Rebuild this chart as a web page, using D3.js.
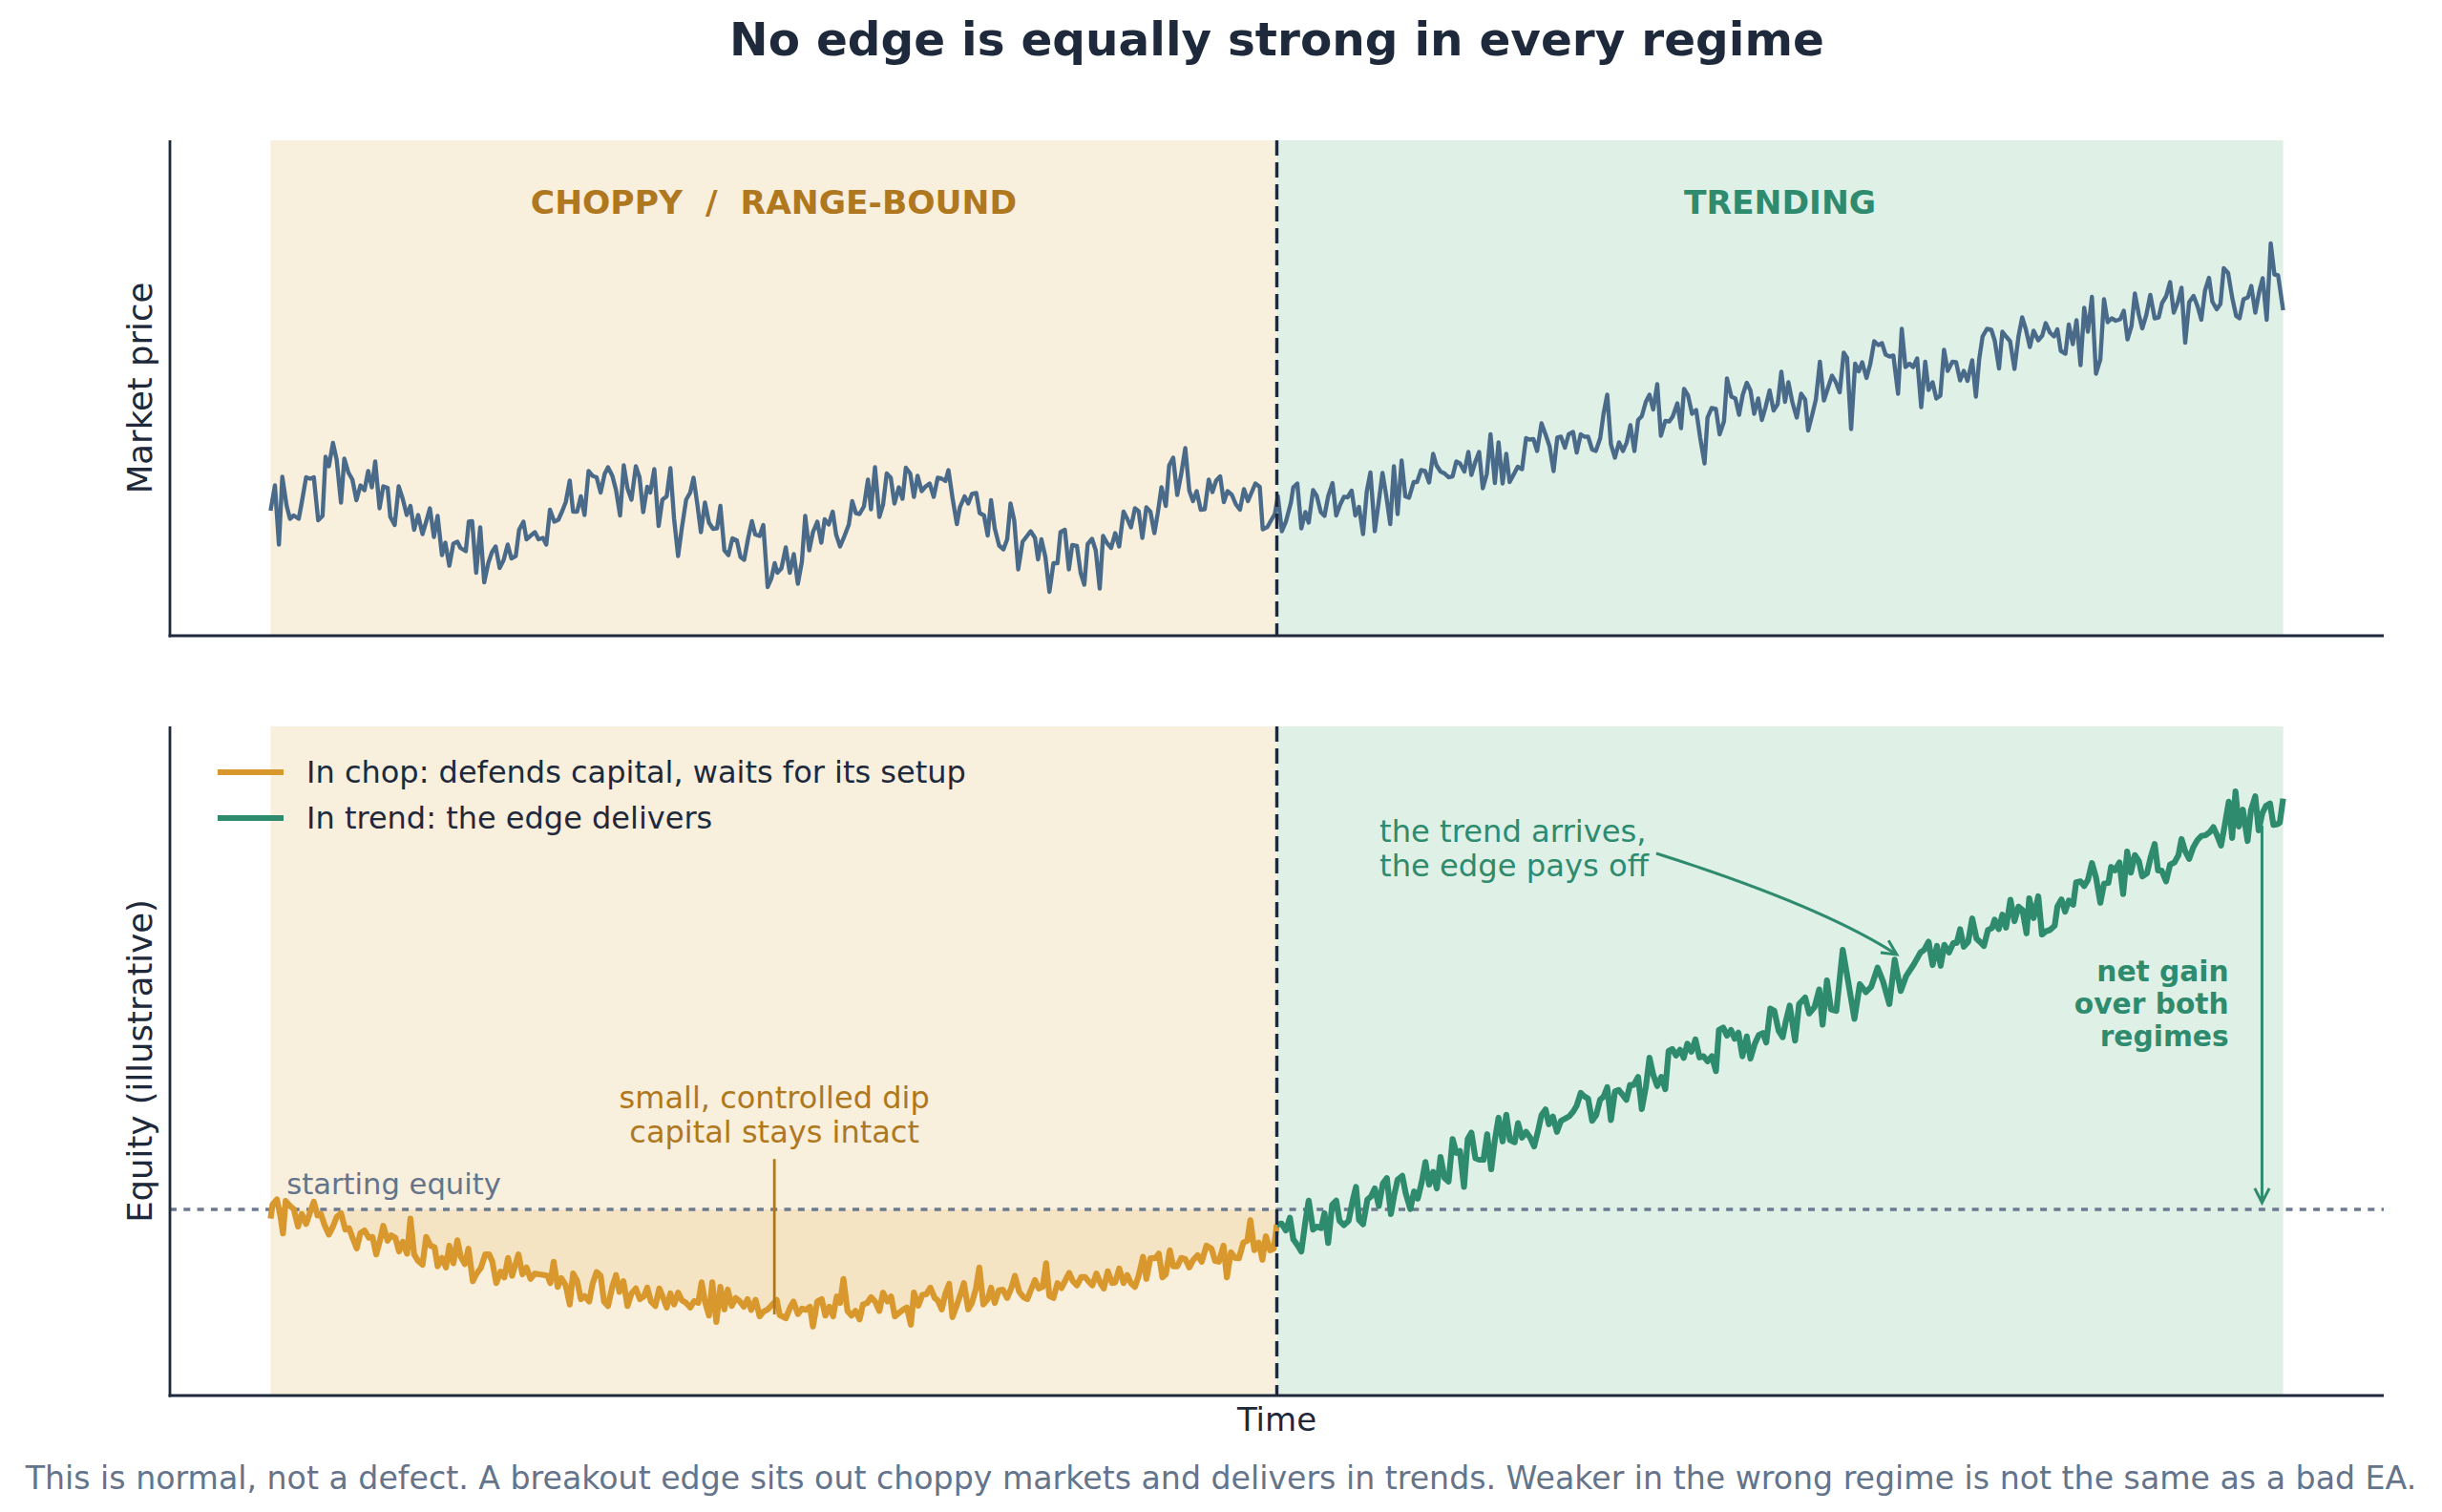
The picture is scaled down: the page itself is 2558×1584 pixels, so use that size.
<!DOCTYPE html>
<html>
<head>
<meta charset="utf-8">
<script src="https://cdnjs.cloudflare.com/ajax/libs/d3/7.8.5/d3.min.js"></script>
<style>
  body { margin: 0; background: #fff; }
  svg { display: block; font-family: "DejaVu Sans", sans-serif; }
</style>
</head>
<body>
<svg id="chart" width="2558" height="1584"></svg>
<script>
// === DATA (time index 0..600) ===
const regimeBounds = [0, 300, 600];
const regimeLabels = ["CHOPPY  /  RANGE-BOUND", "TRENDING"];
const startEquity = 100;

const priceChop = [
[0,93.0],[1.3,98.3],[2.5,85.9],[3.5,100.1],[4.8,94.0],[5.8,91.3],[6.9,92.0],[8.4,91.3],[9.3,94.7],[10.6,100.0],[11.8,99.7],[12.9,100.0],[14.2,91.0],[15.5,91.9],[16.4,104.3],[17.4,102.3],[18.6,107.2],[19.7,103.7],[21.0,94.7],[22.0,103.9],[23.2,101.0],[24.4,99.5],[25.6,95.2],[26.8,98.3],[28.0,97.3],[29.1,101.3],[30.2,97.9],[31.2,103.3],[32.5,93.5],[33.6,98.1],[34.9,97.8],[35.7,91.7],[37.0,90.0],[38.2,98.1],[39.4,95.5],[40.6,92.1],[41.7,94.0],[42.8,89.0],[44.0,92.1],[45.3,88.1],[46.4,90.7],[47.5,93.5],[48.7,87.5],[49.8,91.9],[51.1,83.7],[52.1,86.3],[53.3,81.5],[54.5,86.1],[55.7,86.5],[56.6,85.2],[58.2,84.5],[59.1,90.7],[60.1,90.8],[61.3,80.0],[62.5,89.5],[63.7,78.0],[64.9,82.0],[66.0,84.3],[67.1,85.5],[68.3,81.0],[69.5,82.7],[70.7,85.9],[71.8,83.0],[73.1,83.5],[74.1,89.0],[75.4,90.7],[76.3,87.0],[77.6,87.8],[78.8,88.5],[79.9,87.0],[81.2,87.3],[82.2,85.9],[83.3,93.2],[84.6,90.7],[85.8,91.1],[87.0,93.0],[88.0,94.8],[89.2,99.3],[90.2,92.8],[91.4,92.8],[92.5,96.0],[93.6,92.1],[94.8,101.3],[96.0,100.3],[97.2,100.0],[98.4,96.8],[99.6,100.7],[100.6,102.1],[101.9,100.3],[103.0,97.3],[104.2,92.0],[105.3,102.5],[106.4,97.7],[107.6,95.3],[108.9,102.3],[110.0,100.0],[111.1,92.7],[112.3,98.0],[113.2,96.8],[114.4,101.7],[115.7,89.8],[116.8,95.3],[118.1,96.0],[119.2,101.9],[120.3,91.3],[121.5,83.5],[122.6,89.3],[123.9,95.3],[125.1,96.8],[126.1,99.9],[127.3,94.0],[128.3,88.5],[129.5,94.7],[130.7,90.5],[131.9,89.2],[133.1,89.3],[134.1,94.0],[135.3,84.7],[136.5,83.7],[137.7,87.2],[139.0,86.8],[140.1,83.3],[141.2,82.7],[142.4,87.3],[143.5,90.8],[144.5,88.0],[145.8,87.7],[146.9,90.0],[148.2,77.0],[149.3,78.8],[150.3,82.0],
[151.1,80.0],[152.3,80.9],[153.6,85.3],[154.8,80.0],[156.0,83.9],[157.2,77.7],[158.4,82.3],[159.4,91.9],[160.6,84.7],[161.7,88.5],[163.0,90.7],[164.2,86.3],[165.2,91.2],[166.4,90.1],[167.6,92.8],[168.6,88.0],[169.8,85.5],[171.1,87.7],[172.4,90.1],[173.4,95.0],[174.5,92.5],[175.6,92.3],[176.9,93.9],[178.1,99.5],[179.0,93.3],[180.2,102.1],[181.5,91.7],[182.6,94.3],[183.7,100.8],[184.9,99.9],[186.0,94.5],[187.3,97.9],[188.4,95.5],[189.4,102.0],[190.7,100.8],[191.8,95.9],[192.9,100.3],[194.1,97.1],[195.2,98.0],[196.5,98.7],[197.7,95.9],[198.9,99.9],[200.1,99.7],[201.2,99.2],[202.1,101.5],[203.3,95.7],[204.6,90.2],[205.5,93.7],[206.9,96.0],[208.0,94.5],[209.1,96.5],[210.4,96.7],[211.4,92.5],[212.7,92.0],[213.8,87.8],[214.8,95.2],[215.9,89.3],[217.2,85.7],[218.5,84.9],[219.6,87.0],[220.6,94.5],[221.7,91.0],[222.9,80.7],[224.2,86.5],[225.3,87.5],[226.6,88.7],[227.9,87.3],[228.8,82.8],[229.8,87.0],[231.0,83.3],[232.2,76.0],[233.4,82.0],[234.6,82.0],[235.5,88.5],[236.8,89.0],[238.0,80.7],[239.0,85.8],[240.4,85.6],[241.5,80.0],[242.6,77.5],[243.6,86.0],[244.9,87.1],[246.0,84.7],[247.2,76.7],[248.2,87.7],[249.4,86.2],[250.6,85.2],[251.8,88.3],[253.0,85.5],[254.3,92.8],[255.4,91.3],[256.5,89.5],[257.7,93.5],[258.8,92.9],[259.9,87.3],[261.1,93.7],[262.3,92.8],[263.5,88.3],[264.5,92.5],[265.6,97.9],[266.9,94.0],[267.9,102.5],[269.1,104.1],[270.3,96.3],[271.5,100.7],[272.7,106.1],[273.9,97.2],[275.0,95.0],[276.1,97.1],[277.3,93.2],[278.5,93.3],[279.7,99.5],[280.8,96.9],[281.9,99.3],[283.1,100.2],[284.2,94.8],[285.3,97.1],[286.6,96.3],[287.8,94.3],[289.0,93.2],[290.2,97.5],[291.4,95.0],[292.4,96.7],[293.6,98.7],[294.9,98.0],[295.8,89.1],[297.2,89.6],[298.3,91.0],[299.4,92.3],[300.3,96.0]
];

const priceTrend = [
[301.5,88.7],[302.7,90.7],[304.2,94.7],[304.9,97.9],[306.1,98.7],[307.3,89.3],[308.5,92.7],[309.5,90.5],[310.8,97.3],[311.9,96.1],[313.1,92.7],[314.2,91.9],[315.3,96.0],[316.6,98.8],[317.7,92.0],[318.9,94.3],[320.0,95.9],[321.1,95.8],[322.3,97.2],[323.4,92.0],[324.5,93.8],[325.7,88.1],[326.8,97.0],[327.9,101.0],[329.2,88.7],[330.4,95.0],[331.5,100.9],[332.6,96.2],[333.8,90.2],[334.9,102.3],[336.0,92.3],[337.2,103.5],[338.3,96.0],[339.4,95.7],[340.8,99.0],[341.8,99.0],[343.0,101.5],[344.2,101.3],[345.4,98.9],[346.6,104.9],[347.6,102.5],[348.8,101.2],[350.0,100.8],[351.2,100.0],[352.4,100.2],[353.5,103.3],[354.6,102.9],[355.9,101.2],[357.1,105.3],[358.0,100.5],[359.2,103.3],[360.3,105.3],[361.4,97.7],[362.6,100.7],[363.7,109.0],[365.0,98.8],[366.1,107.3],[367.3,98.7],[368.4,104.9],[369.4,99.0],[370.7,100.7],[371.8,102.2],[373.1,101.7],[374.3,108.2],[375.3,107.9],[376.5,108.0],[377.6,105.5],[378.9,111.3],[380.1,109.0],[381.3,106.5],[382.5,101.3],[383.6,108.3],[384.7,108.5],[385.9,106.2],[387.0,109.0],[388.3,109.5],[389.4,105.2],[390.6,109.0],[391.7,108.5],[392.8,108.5],[394.0,105.8],[395.1,105.5],[396.4,108.2],[397.4,113.3],[398.5,117.3],[399.6,106.9],[400.8,104.1],[402.0,107.3],[403.2,105.5],[404.3,107.3],[405.4,110.9],[406.6,105.5],[407.7,112.0],[408.8,112.8],[410.0,115.8],[411.1,117.3],[412.2,114.2],[413.4,119.5],[414.5,108.7],[415.8,111.8],[417.0,111.7],[418.0,112.7],[419.4,115.5],[420.5,110.3],[421.4,118.5],[422.6,117.1],[423.8,113.3],[425.0,114.1],[426.2,108.3],[427.5,102.9],[428.4,112.5],[429.6,114.5],[430.9,114.3],[432.0,109.0],[433.3,111.7],[434.2,120.7],[435.5,116.9],[436.7,116.5],[437.8,113.1],[438.9,117.3],[440.1,119.8],[441.2,118.2],[442.3,113.3],[443.5,116.5],[444.6,112.0],[445.7,114.7],[446.9,118.2],[448.1,114.0],[449.3,115.3],
[450.4,122.1],[451.5,115.8],[452.5,119.9],[453.7,115.7],[455.0,112.5],[456.3,117.5],[457.5,116.3],[458.4,109.8],[459.6,113.1],[460.7,116.3],[461.9,124.2],[463.1,116.1],[464.3,118.7],[465.5,121.3],[466.6,120.0],[467.8,117.8],[469.0,126.1],[470.0,125.0],[471.2,110.1],[472.4,123.8],[473.5,122.2],[474.5,124.1],[475.8,120.8],[476.9,123.7],[478.1,128.5],[479.3,127.7],[480.4,128.1],[481.5,125.7],[482.7,125.3],[483.8,125.5],[485.2,117.5],[486.3,131.1],[487.4,123.1],[488.6,123.8],[489.7,123.1],[490.9,124.9],[492.1,114.7],[493.3,124.2],[494.3,118.3],[495.5,119.9],[496.6,116.5],[497.8,117.1],[498.9,126.7],[500.0,122.3],[501.4,124.2],[502.5,124.1],[503.7,120.3],[504.8,122.3],[505.9,120.2],[507.3,124.5],[508.4,116.9],[509.4,124.8],[510.4,129.5],[511.7,131.1],[513.0,130.9],[514.0,128.7],[515.3,122.8],[516.3,130.5],[517.4,129.5],[518.6,128.5],[519.9,122.7],[521.1,129.5],[522.2,133.5],[523.3,131.0],[524.5,127.3],[525.6,130.7],[527.0,128.7],[528.2,129.7],[529.2,132.3],[530.5,130.3],[531.7,129.5],[532.7,131.0],[533.7,126.5],[535.1,125.9],[536.1,132.0],[537.3,127.9],[538.4,132.9],[539.6,123.5],[540.7,135.5],[541.8,130.5],[543.0,137.8],[544.2,121.7],[545.5,124.7],[546.6,137.3],[547.7,132.5],[548.9,133.3],[550.1,132.8],[551.4,133.1],[552.5,134.9],[553.6,128.9],[554.8,131.7],[555.8,138.5],[557.0,134.0],[558.0,131.2],[559.2,134.0],[560.4,138.2],[561.7,133.3],[562.9,133.5],[563.9,136.5],[565.1,137.9],[566.3,140.9],[567.4,134.5],[568.6,136.7],[569.7,139.7],[570.8,128.2],[572.0,136.7],[573.3,138.0],[574.5,135.8],[575.6,133.0],[576.7,139.1],[577.9,141.8],[578.9,136.8],[580.2,135.2],[581.3,136.3],[582.3,143.8],[583.6,142.8],[584.8,137.7],[586.0,133.8],[587.0,133.3],[588.2,137.3],[589.5,137.7],[590.5,140.1],[591.7,134.5],[592.9,139.0],[593.9,141.7],[595.1,133.0],[596.3,149.0],[597.4,142.5],[598.5,142.3],[600.0,135.0]
];

const equityChop = [
[0,97.6],[0.6,101.3],[1.9,102.6],[3.0,98.0],[3.7,93.7],[4.5,102.2],[5.8,100.9],[6.9,100.1],[8.2,95.5],[9.3,98.8],[10.6,96.2],[11.8,99.3],[12.9,102.0],[14.0,98.4],[15.0,98.8],[16.1,95.9],[17.4,93.4],[18.6,95.5],[19.7,98.0],[21.0,99.0],[22.3,94.7],[23.4,95.1],[24.6,92.2],[25.7,89.8],[26.8,93.8],[28.0,94.5],[29.3,92.6],[30.4,92.8],[31.5,88.2],[32.6,91.8],[33.6,95.7],[34.9,91.8],[36.0,93.2],[37.2,92.6],[38.3,89.0],[39.4,91.5],[40.7,88.4],[41.7,97.6],[42.8,88.2],[44.0,86.5],[45.3,85.5],[46.4,92.8],[47.7,90.5],[48.9,90.1],[49.8,85.1],[51.1,87.3],[52.3,84.8],[53.3,90.5],[54.5,85.9],[55.7,91.9],[56.7,87.6],[57.9,85.7],[59.0,89.7],[60.3,81.2],[61.3,83.0],[62.7,84.7],[64.0,88.2],[65.2,88.2],[66.1,86.3],[67.3,80.7],[68.6,83.7],[69.7,82.2],[70.8,87.3],[72.0,82.6],[73.9,88.2],[75.1,83.0],[76.3,84.8],[77.5,81.8],[78.8,83.2],[80.2,83.0],[81.5,82.8],[82.6,82.6],[83.4,80.7],[84.4,86.3],[85.6,79.7],[86.7,82.0],[88.0,80.1],[89.2,75.1],[90.2,83.2],[91.4,81.3],[92.5,76.5],[93.6,77.3],[95.0,75.9],[96.0,80.5],[97.2,83.6],[98.4,82.6],[99.4,75.9],[100.6,74.7],[101.9,79.8],[103.0,82.8],[104.0,78.4],[105.2,81.2],[106.4,74.7],[107.6,78.0],[108.9,79.3],[110.1,76.5],[111.3,77.2],[112.3,79.5],[113.4,75.9],[114.7,74.7],[115.9,79.3],[116.9,77.2],[118.1,74.3],[119.2,78.0],[120.3,75.1],[121.5,78.2],[122.6,76.2],[123.9,75.5],[125.1,74.3],[126.3,76.0],[127.5,75.5],[128.5,80.9],[129.5,75.9],[130.7,72.2],[131.7,80.9],[132.9,70.5],[134.1,79.7],[135.3,73.8],[136.3,79.0],[137.5,74.7],[138.7,76.8],[139.9,75.9],[141.1,74.5],[142.2,76.5],[143.3,73.7],[144.6,76.3],[145.8,72.0],[146.9,73.2],[148.2,73.8],[149.2,74.7],
[150.9,76.3],[151.8,72.3],[153.6,71.5],[154.9,74.3],[155.9,75.9],[157.2,72.6],[158.4,74.0],[159.6,73.7],[160.8,74.5],[161.7,69.3],[163.0,75.9],[164.3,76.5],[165.4,72.2],[166.6,74.5],[167.7,72.0],[168.8,77.2],[169.8,75.5],[170.8,81.8],[172.0,73.4],[173.2,72.2],[174.4,73.4],[175.6,71.2],[176.6,75.1],[177.9,75.5],[179.0,77.0],[180.2,75.9],[181.5,73.4],[182.6,78.2],[183.9,75.9],[185.0,77.2],[186.1,72.0],[187.5,73.0],[188.7,73.8],[189.7,74.3],[190.9,69.8],[191.8,78.2],[193.1,74.8],[194.3,77.6],[195.5,77.8],[196.7,79.5],[198.0,76.8],[198.9,76.2],[200.1,73.8],[201.2,78.0],[202.3,80.5],[203.3,71.8],[204.5,74.7],[205.7,77.8],[206.7,80.7],[208.0,73.8],[209.1,75.5],[210.3,79.3],[211.3,84.8],[212.5,75.1],[213.8,76.5],[214.8,79.5],[215.9,75.5],[217.1,78.8],[218.3,79.0],[219.6,76.8],[220.8,79.3],[221.9,82.6],[223.2,78.4],[224.5,77.0],[225.6,76.5],[226.6,78.7],[227.9,81.5],[229.0,79.3],[230.2,79.7],[231.2,85.9],[232.2,77.3],[233.4,76.8],[234.6,80.7],[235.8,79.4],[237.0,81.5],[238.1,83.4],[239.2,81.2],[240.4,80.1],[241.7,82.3],[242.8,82.3],[244.1,80.9],[245.0,80.1],[246.2,83.2],[247.5,80.5],[248.4,79.3],[249.6,83.8],[250.9,80.7],[251.8,80.9],[253.0,84.5],[254.3,80.7],[255.4,82.8],[256.5,80.7],[257.7,79.7],[258.8,82.6],[260.1,87.6],[261.1,81.8],[262.3,87.2],[263.7,87.2],[264.8,88.4],[265.9,82.2],[266.9,83.0],[268.1,89.3],[269.1,85.1],[270.3,85.1],[271.5,87.3],[272.7,87.0],[273.9,84.8],[275.1,86.8],[276.4,88.0],[277.6,86.3],[279.0,90.5],[280.5,89.7],[281.6,86.5],[282.7,86.3],[284.1,90.5],[285.1,82.2],[286.3,88.8],[287.6,87.3],[288.7,87.2],[290.0,91.3],[291.2,91.8],[292.1,97.2],[293.3,89.3],[294.6,91.3],[295.7,86.8],[296.7,93.0],[298.0,89.3],[299.1,89.7],[300,96.0]
];

const equityTrend = [
[300,96.0],[301.4,96.3],[302.7,94.5],[303.9,97.8],[304.9,92.2],[306.1,90.7],[307.3,89.0],[308.5,96.8],[309.5,102.3],[310.8,94.7],[311.9,95.5],[313.2,95.1],[314.2,99.0],[315.3,91.2],[316.5,101.2],[317.7,102.3],[318.7,97.0],[320.0,95.9],[321.4,97.0],[322.6,102.3],[323.6,105.9],[324.5,97.2],[325.7,96.1],[327.0,102.6],[328.1,103.4],[329.2,105.5],[330.4,100.9],[331.6,106.8],[332.8,108.2],[334.0,98.8],[335.0,103.8],[336.0,107.8],[337.4,108.8],[338.4,104.3],[339.8,100.1],[340.9,104.7],[342.0,102.8],[343.2,107.2],[344.3,112.4],[345.4,106.5],[346.6,109.8],[347.7,105.5],[348.8,113.7],[350.0,108.2],[351.2,107.3],[352.4,118.4],[353.5,114.8],[354.6,115.3],[355.8,105.9],[356.9,118.4],[358.0,120.1],[359.2,113.4],[360.5,113.0],[361.6,113.0],[362.7,119.7],[363.9,110.5],[365.0,118.2],[366.1,124.0],[367.3,117.8],[368.4,124.8],[369.5,118.2],[370.9,117.6],[371.9,122.6],[373.1,118.8],[374.3,120.3],[375.5,118.8],[376.7,116.5],[377.9,120.7],[378.9,124.7],[380.1,126.2],[381.1,122.3],[382.3,124.3],[383.5,120.3],[384.7,123.2],[386.0,123.8],[387.2,124.4],[388.4,125.7],[389.4,127.2],[390.6,130.5],[391.5,129.7],[392.8,129.0],[394.0,123.2],[395.2,124.7],[396.4,128.8],[397.4,129.5],[398.5,132.0],[399.6,123.4],[400.8,130.9],[401.9,131.3],[403.0,130.1],[404.2,128.7],[405.3,132.6],[406.4,132.6],[407.7,134.7],[408.8,126.3],[410.0,132.0],[411.1,139.7],[412.2,135.3],[413.4,132.3],[414.6,134.7],[415.8,131.5],[416.8,141.5],[417.9,142.0],[419.0,140.3],[420.2,141.8],[421.3,139.7],[422.4,143.4],[423.6,141.3],[424.8,144.5],[426.0,139.8],[427.2,140.1],[428.4,138.8],[429.7,140.1],[430.9,136.2],[431.8,147.0],[433.1,147.6],[434.2,145.5],[435.4,147.0],[436.5,144.7],[437.6,146.3],[438.8,140.1],[440.1,145.3],[441.2,139.5],[442.5,143.4],[443.7,145.7],[444.9,146.2],[445.9,143.7],[447.1,152.6],[448.3,152.0],[449.6,146.8],[450.8,145.1],
[451.7,149.1],[452.9,153.4],[454.5,144.2],[455.7,153.8],[457.5,155.5],[458.7,151.3],[460.3,153.0],[461.7,157.6],[462.7,148.4],[464.0,160.0],[465.2,152.4],[466.8,152.0],[468.7,168.0],[470.3,159.8],[472.2,149.9],[473.8,159.0],[475.6,156.9],[477.2,158.3],[479.1,163.3],[480.7,159.8],[482.6,153.8],[484.2,165.4],[486.0,157.2],[487.6,161.1],[489.9,164.2],
[491.9,167.3],[493.0,168.0],[494.3,170.1],[495.5,164.0],[496.8,169.0],[497.9,163.8],[499.0,169.3],[500.4,167.3],[501.7,169.8],[502.7,169.8],[503.7,173.4],[504.8,168.8],[506.1,170.1],[507.3,176.2],[508.6,170.9],[509.6,170.1],[510.8,169.0],[512.0,173.2],[513.2,173.7],[514.0,175.9],[515.2,173.4],[516.3,177.2],[517.4,173.8],[518.7,181.1],[519.9,175.5],[521.1,179.3],[522.3,178.4],[523.5,172.3],[524.3,181.5],[525.6,176.3],[527.0,182.0],[528.1,172.0],[529.2,172.8],[530.5,173.2],[531.9,174.3],[532.7,179.3],[533.9,181.2],[535.0,178.0],[536.1,180.9],[537.4,179.8],[538.3,185.7],[539.6,185.9],[540.7,184.7],[541.8,186.3],[543.0,190.7],[544.2,187.0],[545.5,180.3],[546.6,185.3],[547.9,185.5],[548.7,189.7],[549.9,188.8],[551.2,190.9],[552.3,182.6],[553.5,193.7],[554.6,188.2],[555.8,192.8],[557.0,191.2],[558.0,187.2],[559.4,188.0],[560.5,192.2],[561.7,195.7],[562.7,188.8],[563.8,188.7],[565.1,185.9],[566.3,190.3],[567.6,190.9],[568.8,192.8],[569.7,197.0],[570.8,193.8],[572.0,191.8],[573.2,194.8],[574.5,196.8],[575.6,197.8],[576.9,198.0],[578.1,198.8],[579.2,200.1],[580.2,198.2],[581.5,195.3],[582.6,200.7],[583.8,206.8],[584.8,197.3],[585.8,209.5],[586.8,200.3],[588.0,204.7],[589.4,196.5],[590.4,204.5],[591.7,208.2],[592.7,199.3],[593.8,203.8],[594.9,205.7],[596.1,206.3],[597.1,200.7],[598.3,200.9],[599.0,201.3],[600.0,207.6]
];

// legend + annotation texts
const legendLabels = ["In chop: defends capital, waits for its setup", "In trend: the edge delivers"];
const dipNote = ["small, controlled dip", "capital stays intact"];
const trendNote = ["the trend arrives,", "the edge pays off"];
const gainNote = ["net gain", "over both", "regimes"];

// === STYLE ===
const C = {
  ink: "#1e293b", muted: "#64748b", dotted: "#6b7a8f",
  price: "#4a6a8a", amber: "#d9982d", amberText: "#b0781e", green: "#2e8b6e",
  chopBg: "#f8efdc", trendBg: "#dff0e6", dipFill: "#f4e4c3"
};
const FONT = "'DejaVu Sans', sans-serif";

// === LAYOUT ===
const svg = d3.select("#chart");
const X0 = 178, X1 = 2497;
const topP = { y0: 147, y1: 666 };
const botP = { y0: 761, y1: 1462 };

const x = d3.scaleLinear().domain([-30, 630]).range([X0, X1]);
const yP = d3.scaleLinear().domain([66.8, 170.6]).range([topP.y1, topP.y0]);
const yE = d3.scaleLinear().domain([51.25, 226.5]).range([botP.y1, botP.y0]);

// === REGIME SHADING ===
[topP, botP].forEach(p => {
  svg.append("rect").attr("x", x(regimeBounds[0])).attr("y", p.y0)
    .attr("width", x(regimeBounds[1]) - x(regimeBounds[0])).attr("height", p.y1 - p.y0)
    .attr("fill", C.chopBg);
  svg.append("rect").attr("x", x(regimeBounds[1])).attr("y", p.y0)
    .attr("width", x(regimeBounds[2]) - x(regimeBounds[1])).attr("height", p.y1 - p.y0)
    .attr("fill", C.trendBg);
});

// === TOP: MARKET PRICE ===
const priceLine = d3.line().x(d => x(d[0])).y(d => yP(d[1]));
svg.append("path").datum(priceChop.concat(priceTrend))
  .attr("d", priceLine).attr("fill", "none")
  .attr("stroke", C.price).attr("stroke-width", 4.4).attr("stroke-linejoin", "round");

svg.selectAll(".regime-label").data(regimeLabels).join("text")
  .attr("x", (d, i) => x((regimeBounds[i] + regimeBounds[i + 1]) / 2))
  .attr("y", 224)
  .attr("text-anchor", "middle").style("white-space", "pre")
  .attr("font-size", 34.5).attr("font-weight", "bold")
  .attr("fill", (d, i) => i === 0 ? C.amberText : C.green)
  .text(d => d);

// === BOTTOM: EQUITY ===
// dip fill below the starting equity
svg.append("path").datum(equityChop)
  .attr("d", d3.area().x(d => x(d[0])).y0(yE(startEquity)).y1(d => yE(Math.min(d[1], startEquity))))
  .attr("fill", C.dipFill);

svg.append("line").attr("x1", X0).attr("x2", X1)
  .attr("y1", yE(startEquity)).attr("y2", yE(startEquity))
  .attr("stroke", C.dotted).attr("stroke-width", 3.3).attr("stroke-dasharray", "7 7.3");

const eqLine = d3.line().x(d => x(d[0])).y(d => yE(d[1]));
svg.append("path").datum(equityChop).attr("d", eqLine).attr("fill", "none")
  .attr("stroke", C.amber).attr("stroke-width", 6.2).attr("stroke-linejoin", "round");
svg.append("path").datum(equityTrend).attr("d", eqLine).attr("fill", "none")
  .attr("stroke", C.green).attr("stroke-width", 6.2).attr("stroke-linejoin", "round");

svg.append("text").attr("x", x(4.8)).attr("y", yE(104))
  .attr("font-size", 30.6).attr("fill", C.muted).text("starting equity");

// === REGIME DIVIDER + SPINES ===
[topP, botP].forEach(p => {
  svg.append("line").attr("x1", x(regimeBounds[1])).attr("x2", x(regimeBounds[1]))
    .attr("y1", p.y0).attr("y2", p.y1)
    .attr("stroke", C.ink).attr("stroke-width", 3.4).attr("stroke-dasharray", "16 7");
  svg.append("line").attr("x1", X0).attr("x2", X0).attr("y1", p.y0).attr("y2", p.y1 + 1.4)
    .attr("stroke", C.ink).attr("stroke-width", 2.8);
  svg.append("line").attr("x1", X0 - 1.4).attr("x2", X1).attr("y1", p.y1).attr("y2", p.y1)
    .attr("stroke", C.ink).attr("stroke-width", 2.8);
});

// === LEGEND ===
const legend = svg.append("g");
legendLabels.forEach((lab, i) => {
  const ly = 809 + i * 48;
  legend.append("line").attr("x1", 228).attr("x2", 297).attr("y1", ly).attr("y2", ly)
    .attr("stroke", i === 0 ? C.amber : C.green).attr("stroke-width", 6.2);
  legend.append("text").attr("x", 321).attr("y", ly + 11)
    .attr("font-size", 32).attr("fill", C.ink).text(lab);
});

// === ANNOTATIONS ===
function arrowHead(g, tip, from, color) {
  const ang = Math.atan2(tip[1] - from[1], tip[0] - from[0]);
  const L = 17, a = 26.6 * Math.PI / 180;
  const w1 = [tip[0] - L * Math.cos(ang - a), tip[1] - L * Math.sin(ang - a)];
  const w2 = [tip[0] - L * Math.cos(ang + a), tip[1] - L * Math.sin(ang + a)];
  g.append("path").attr("d", `M${w1}L${tip}L${w2}`).attr("fill", "none")
    .attr("stroke", color).attr("stroke-width", 3).attr("stroke-linejoin", "miter");
}

// dip note
svg.selectAll(".dip").data(dipNote).join("text")
  .attr("x", x(150.2)).attr("y", (d, i) => yE([126.5, 117.5][i]))
  .attr("text-anchor", "middle").attr("font-size", 32).attr("fill", C.amberText).text(d => d);
svg.append("line").attr("x1", x(150.2)).attr("x2", x(150.2))
  .attr("y1", yE(113.2)).attr("y2", yE(72.5))
  .attr("stroke", C.amberText).attr("stroke-width", 2.8);

// trend note with curved arrow
svg.selectAll(".trendnote").data(trendNote).join("text")
  .attr("x", x(330.6)).attr("y", (d, i) => yE([196.25, 187.25][i]))
  .attr("font-size", 32.2).attr("fill", C.green).text(d => d);
const a0 = [x(413.1), yE(193.25)], ac = [x(462.5), yE(179.5)], a1 = [x(484.8), yE(166.75)];
const ann = svg.append("g");
ann.append("path").attr("d", `M${a0}Q${ac} ${a1}`).attr("fill", "none")
  .attr("stroke", C.green).attr("stroke-width", 3);
arrowHead(ann, a1, ac, C.green);

// net gain note with vertical arrow
svg.selectAll(".gain").data(gainNote).join("text")
  .attr("x", x(583.8)).attr("y", (d, i) => yE([159.75, 151.25, 142.75][i]))
  .attr("text-anchor", "end").attr("font-size", 29.7).attr("font-weight", "bold")
  .attr("fill", C.green).text(d => d);
const g0 = [x(593.7), yE(200.5)], g1 = [x(593.7), yE(startEquity) - 7];
ann.append("line").attr("x1", g0[0]).attr("x2", g1[0]).attr("y1", g0[1]).attr("y2", g1[1] - 1)
  .attr("stroke", C.green).attr("stroke-width", 3);
arrowHead(ann, g1, g0, C.green);

// === TITLES & LABELS ===
svg.append("text").attr("x", (X0 + X1) / 2).attr("y", 58).attr("text-anchor", "middle")
  .attr("font-size", 48.5).attr("font-weight", "bold").attr("fill", C.ink)
  .text("No edge is equally strong in every regime");

svg.append("text").attr("transform", `translate(159,${(topP.y0 + topP.y1) / 2}) rotate(-90)`)
  .attr("text-anchor", "middle").attr("font-size", 35.5).attr("fill", C.ink).text("Market price");
svg.append("text").attr("transform", `translate(159,${(botP.y0 + botP.y1) / 2}) rotate(-90)`)
  .attr("text-anchor", "middle").attr("font-size", 35.5).attr("fill", C.ink).text("Equity (illustrative)");
svg.append("text").attr("x", (X0 + X1) / 2).attr("y", 1499).attr("text-anchor", "middle")
  .attr("font-size", 34).attr("fill", C.ink).text("Time");

svg.append("text").attr("x", 1279).attr("y", 1560).attr("text-anchor", "middle")
  .attr("font-size", 33.2).attr("fill", C.muted)
  .text("This is normal, not a defect. A breakout edge sits out choppy markets and delivers in trends. Weaker in the wrong regime is not the same as a bad EA.");

svg.selectAll("text").attr("font-family", FONT);
</script>
</body>
</html>
